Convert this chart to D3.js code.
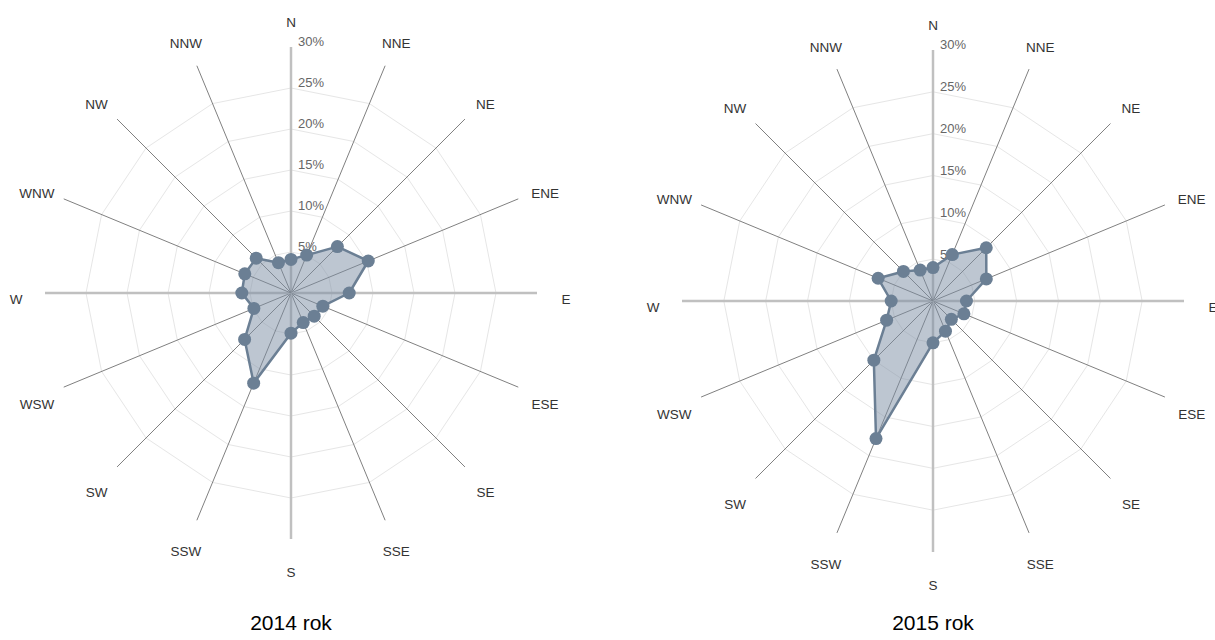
<!DOCTYPE html>
<html>
<head>
<meta charset="utf-8">
<script src="https://cdn.jsdelivr.net/npm/d3@7"></script>
<style>
  html, body { margin: 0; padding: 0; background: #fff; }
  svg { display: block; font-family: "Liberation Sans", Arial, sans-serif; }
</style>
</head>
<body>
<svg id="chart" width="1215" height="640"></svg>
<script>
// ---- data ----
const directions = ["N","NNE","NE","ENE","E","ESE","SE","SSE","S","SSW","SW","WSW","W","WNW","NW","NNW"];
const values2014 = [4.1, 5.0, 8.0, 10.2, 7.1, 4.2, 4.0, 3.9, 4.9, 11.9, 8.0, 4.9, 6.0, 6.1, 6.0, 4.0];
const values2015 = [4.0, 6.0, 9.0, 6.9, 4.0, 4.0, 3.1, 3.9, 5.0, 17.8, 10.0, 6.0, 5.0, 7.1, 5.0, 4.0];
const tickValues = [5, 10, 15, 20, 25, 30];
const tickLabels = ["5%", "10%", "15%", "20%", "25%", "30%"];
const ringValues = [5, 10, 15, 20, 25];
const titles = ["2014 rok", "2015 rok"];
const maxValue = 30;

const svg = d3.select("#chart");

const panels = [
  { values: values2014, title: titles[0], cx: 291, cy: 293, R: 246 },
  { values: values2015, title: titles[1], cx: 933, cy: 301, R: 251 }
];

panels.forEach(p => {
  const g = svg.append("g").attr("transform", `translate(${p.cx},${p.cy})`);
  const r = d3.scaleLinear().domain([0, maxValue]).range([0, p.R]);
  const a = d3.scaleLinear().domain([0, directions.length]).range([0, 2 * Math.PI]);
  const px = (i, v) => r(v) * Math.sin(a(i));
  const py = (i, v) => -r(v) * Math.cos(a(i));

  // grid rings (polygons)
  const ring = d3.lineRadial().angle((d, i) => a(i)).radius(d => r(d)).curve(d3.curveLinearClosed);
  ringValues.forEach(v => {
    g.append("path")
      .attr("d", ring(directions.map(() => v)))
      .attr("fill", "none")
      .attr("stroke", "#e6e6e6")
      .attr("stroke-width", 1);
  });

  // spokes
  directions.forEach((d, i) => {
    const main = i % 4 === 0;
    g.append("line")
      .attr("x1", 0).attr("y1", 0)
      .attr("x2", px(i, maxValue)).attr("y2", py(i, maxValue))
      .attr("stroke", main ? "#c0c0c0" : "#808080")
      .attr("stroke-width", main ? 2.5 : 1);
  });

  // tick labels
  tickValues.forEach((v, k) => {
    g.append("text")
      .attr("x", 7)
      .attr("y", -r(v) - 4)
      .attr("dominant-baseline", "middle")
      .attr("fill", "#666")
      .attr("font-size", "13px")
      .text(tickLabels[k]);
  });

  // category labels
  directions.forEach((d, i) => {
    const rr = p.R + 29;
    const ang = a(i);
    g.append("text")
      .attr("x", rr * Math.sin(ang))
      .attr("y", -rr * Math.cos(ang) + 5 + 2 * Math.abs(Math.sin(ang)))
      .attr("text-anchor", "middle")
      .attr("dominant-baseline", "middle")
      .attr("fill", "#333")
      .attr("font-size", "13.5px")
      .text(d);
  });

  // area
  const area = d3.areaRadial()
    .angle((d, i) => a(i))
    .innerRadius(0)
    .outerRadius(d => r(d))
    .curve(d3.curveLinearClosed);
  g.append("path")
    .attr("d", area(p.values))
    .attr("fill", "#7b8ea3")
    .attr("fill-opacity", 0.5)
    .attr("stroke", "none");
  const line = d3.lineRadial().angle((d, i) => a(i)).radius(d => r(d)).curve(d3.curveLinearClosed);
  g.append("path")
    .attr("d", line(p.values))
    .attr("fill", "none")
    .attr("stroke", "#6b7f94")
    .attr("stroke-width", 2.5)
    .attr("stroke-linejoin", "round");

  // markers
  g.selectAll("circle.pt")
    .data(p.values)
    .join("circle")
    .attr("class", "pt")
    .attr("cx", (d, i) => px(i, d))
    .attr("cy", (d, i) => py(i, d))
    .attr("r", 6.5)
    .attr("fill", "#6b7f94");

  // title
  svg.append("text")
    .attr("x", p.cx)
    .attr("y", 630)
    .attr("text-anchor", "middle")
    .attr("fill", "#000")
    .attr("font-size", "21px")
    .text(p.title);
});
</script>
</body>
</html>
